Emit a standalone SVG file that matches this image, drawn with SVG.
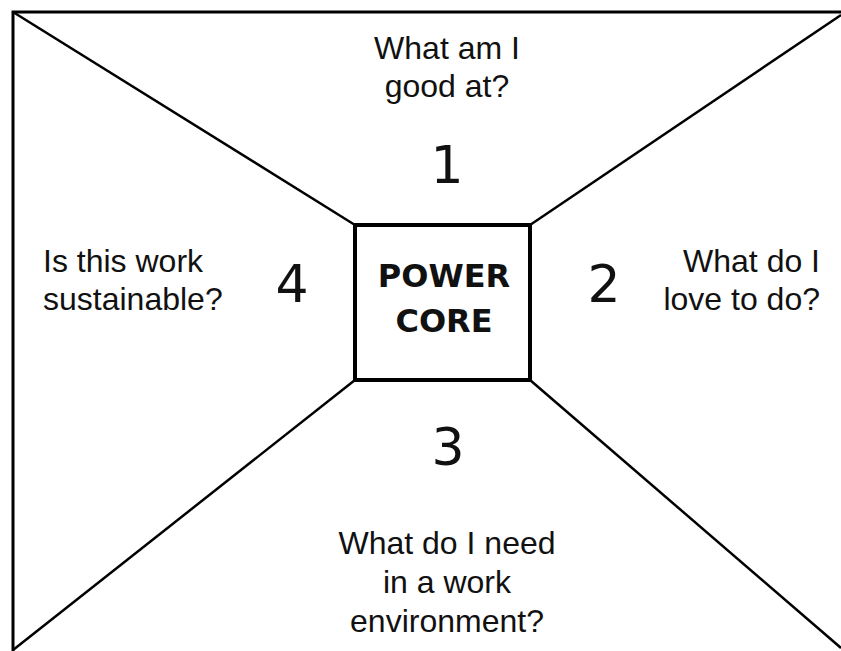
<svg xmlns="http://www.w3.org/2000/svg" width="841" height="651" viewBox="0 0 841 651">
  <style>
    .frame { fill: none; stroke: #000; stroke-width: 3; }
    .diag { fill: none; stroke: #000; stroke-width: 2.5; }
    .core { fill: #fff; stroke: #000; stroke-width: 4; }
    .q { font-family: "Liberation Sans", Arial, sans-serif; font-size: 32px; fill: #111; }
    .num { font-family: "DejaVu Sans", Verdana, sans-serif; font-size: 52px; fill: #111; text-anchor: middle; }
    .title { font-family: "DejaVu Sans", Verdana, sans-serif; font-weight: bold; font-size: 32px; fill: #111; text-anchor: middle; }
  </style>
  <rect width="841" height="651" fill="#fff"/>

  <!-- outer frame (left and top edges only) -->
  <polyline class="frame" points="13,651 13,12 841,12"/>

  <!-- diagonals from the frame corners to the core box -->
  <g id="connectors">
    <line class="diag" x1="13" y1="12" x2="355" y2="225"/>
    <line class="diag" x1="841" y1="15" x2="530" y2="225"/>
    <line class="diag" x1="13" y1="650" x2="355" y2="380"/>
    <line class="diag" x1="841" y1="648" x2="530" y2="380"/>
  </g>

  <!-- central box -->
  <g id="core">
    <rect class="core" x="355" y="225" width="175" height="155"/>
    <text class="title" x="444" y="287">POWER</text>
    <text class="title" x="444" y="332">CORE</text>
  </g>

  <!-- quadrant 1: top -->
  <g id="q1">
    <text class="q" x="447" y="59" text-anchor="middle">What am I</text>
    <text class="q" x="447" y="97" text-anchor="middle">good at?</text>
    <text class="num" x="447" y="183">1</text>
  </g>

  <!-- quadrant 2: right -->
  <g id="q2">
    <text class="num" x="604" y="302">2</text>
    <text class="q" x="820" y="272" text-anchor="end">What do I</text>
    <text class="q" x="820" y="310" text-anchor="end">love to do?</text>
  </g>

  <!-- quadrant 3: bottom -->
  <g id="q3">
    <text class="num" x="448" y="465">3</text>
    <text class="q" x="447" y="554" text-anchor="middle">What do I need</text>
    <text class="q" x="447" y="593" text-anchor="middle">in a work</text>
    <text class="q" x="447" y="632" text-anchor="middle">environment?</text>
  </g>

  <!-- quadrant 4: left -->
  <g id="q4">
    <text class="q" x="43" y="272">Is this work</text>
    <text class="q" x="43" y="310">sustainable?</text>
    <text class="num" x="292" y="302">4</text>
  </g>
</svg>
